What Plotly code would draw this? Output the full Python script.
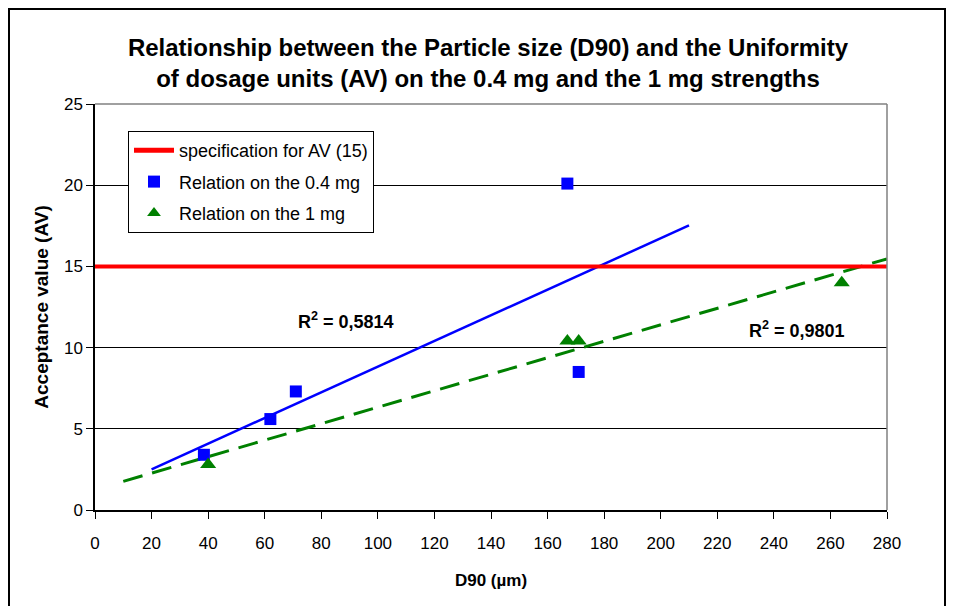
import numpy as np
import plotly.graph_objects as go

# Data
x_04 = [38.5, 62, 71, 167, 171]
y_04 = [3.4, 5.6, 7.3, 20.1, 8.5]
x_1 = [40, 167, 171, 264]
y_1 = [2.8, 10.4, 10.4, 14.0]
spec_value = 15
trend_04_range = [20, 210]
trend_1_range = [10, 280]
r2_04 = "0,5814"
r2_1 = "0,9801"
x_ticks = list(range(0, 281, 20))
y_ticks = [0, 5, 10, 15, 20, 25]

FONT = "Liberation Sans, Arial, sans-serif"

p04 = np.polyfit(x_04, y_04, 1)
p1 = np.polyfit(x_1, y_1, 1)
tx04 = np.array(trend_04_range, dtype=float)
tx1 = np.array(trend_1_range, dtype=float)

fig = go.Figure()
fig.add_trace(go.Scatter(x=tx04, y=np.polyval(p04, tx04), mode="lines",
                         line=dict(color="#0000FF", width=2.5), showlegend=False, hoverinfo="skip"))
fig.add_trace(go.Scatter(x=tx1, y=np.polyval(p1, tx1), mode="lines",
                         line=dict(color="#008000", width=3, dash="20px,10px"), showlegend=False, hoverinfo="skip"))
fig.add_trace(go.Scatter(x=[0, 280], y=[spec_value, spec_value], mode="lines",
                         line=dict(color="#FF0000", width=4), name="specification for AV (15)",
                         legendgroup="a"))
fig.add_trace(go.Scatter(x=x_04, y=y_04, mode="markers",
                         marker=dict(symbol="square", color="#0000FF", size=12),
                         name="Relation on the 0.4 mg", legendgroup="b"))
fig.add_trace(go.Scatter(x=x_1, y=y_1, mode="markers",
                         marker=dict(symbol="triangle-up", color="#008000", size=14),
                         name="Relation on the 1 mg", legendgroup="c"))

OFF = 8  # page offset of the figure in the browser
W, H = 955 - 2 * OFF, 614 - 2 * OFF
L, R, T, B = 95 - OFF, 887 - OFF, 104 - OFF, 510 - OFF
def px(xr): return (xr - OFF - L) / (R - L)
def py(yr): return (B - (yr - OFF)) / (B - T)

fig.update_layout(
    width=W, height=H,
    margin=dict(l=L, r=W - R, t=T, b=H - B),
    paper_bgcolor="white", plot_bgcolor="white",
    font=dict(family=FONT, size=17, color="black"),
    title=dict(text="<b>Relationship between the Particle size (D90) and the Uniformity<br>of dosage units (AV) on the 0.4 mg and the 1 mg strengths</b>",
               x=px(488), xref="paper", xanchor="center",
               y=1 - (56 - OFF) / H, yref="container", yanchor="middle",
               font=dict(family=FONT, size=24, color="black")),
    xaxis=dict(range=[0, 280], tickvals=x_ticks, ticks="outside", ticklen=7, tickcolor="black",
               showline=True, linecolor="black", linewidth=1.5, showgrid=False, zeroline=False,
               ticklabelstandoff=10,
               title=dict(text="<b>D90 (µm)</b>", font=dict(size=17), standoff=22),
               tickfont=dict(size=17)),
    yaxis=dict(range=[0, 25], tickvals=y_ticks, ticks="outside", ticklen=7, tickcolor="black",
               showline=True, linecolor="black", linewidth=1.5, showgrid=True, gridcolor="black",
               gridwidth=1, zeroline=False,
               title=dict(text="<b>Acceptance value (AV)</b>", font=dict(size=19), standoff=10),
               tickfont=dict(size=17)),
    legend=dict(x=px(128), y=py(131), xanchor="left", yanchor="top",
                bordercolor="black", borderwidth=1, bgcolor="white",
                font=dict(size=18), tracegroupgap=5, itemsizing="constant", itemwidth=40),
    annotations=[
        dict(x=px(346), y=py(320), xref="paper", yref="paper", showarrow=False,
             xanchor="center", yanchor="middle",
             text="<b>R<sup>2</sup> = " + r2_04 + "</b>", font=dict(size=18)),
        dict(x=px(797), y=py(329), xref="paper", yref="paper", showarrow=False,
             xanchor="center", yanchor="middle",
             text="<b>R<sup>2</sup> = " + r2_1 + "</b>", font=dict(size=18)),
    ],
    shapes=[
        dict(type="line", xref="paper", yref="paper", x0=0, x1=1, y0=1, y1=1,
             line=dict(color="gray", width=1.5)),
        dict(type="line", xref="paper", yref="paper", x0=1, x1=1, y0=0, y1=1,
             line=dict(color="gray", width=1.5)),
        dict(type="rect", xref="paper", yref="paper", x0=px(9), x1=px(945), y0=py(640), y1=py(9),
             line=dict(color="black", width=2), layer="below"),
    ],
)

fig.write_html("out.html")
